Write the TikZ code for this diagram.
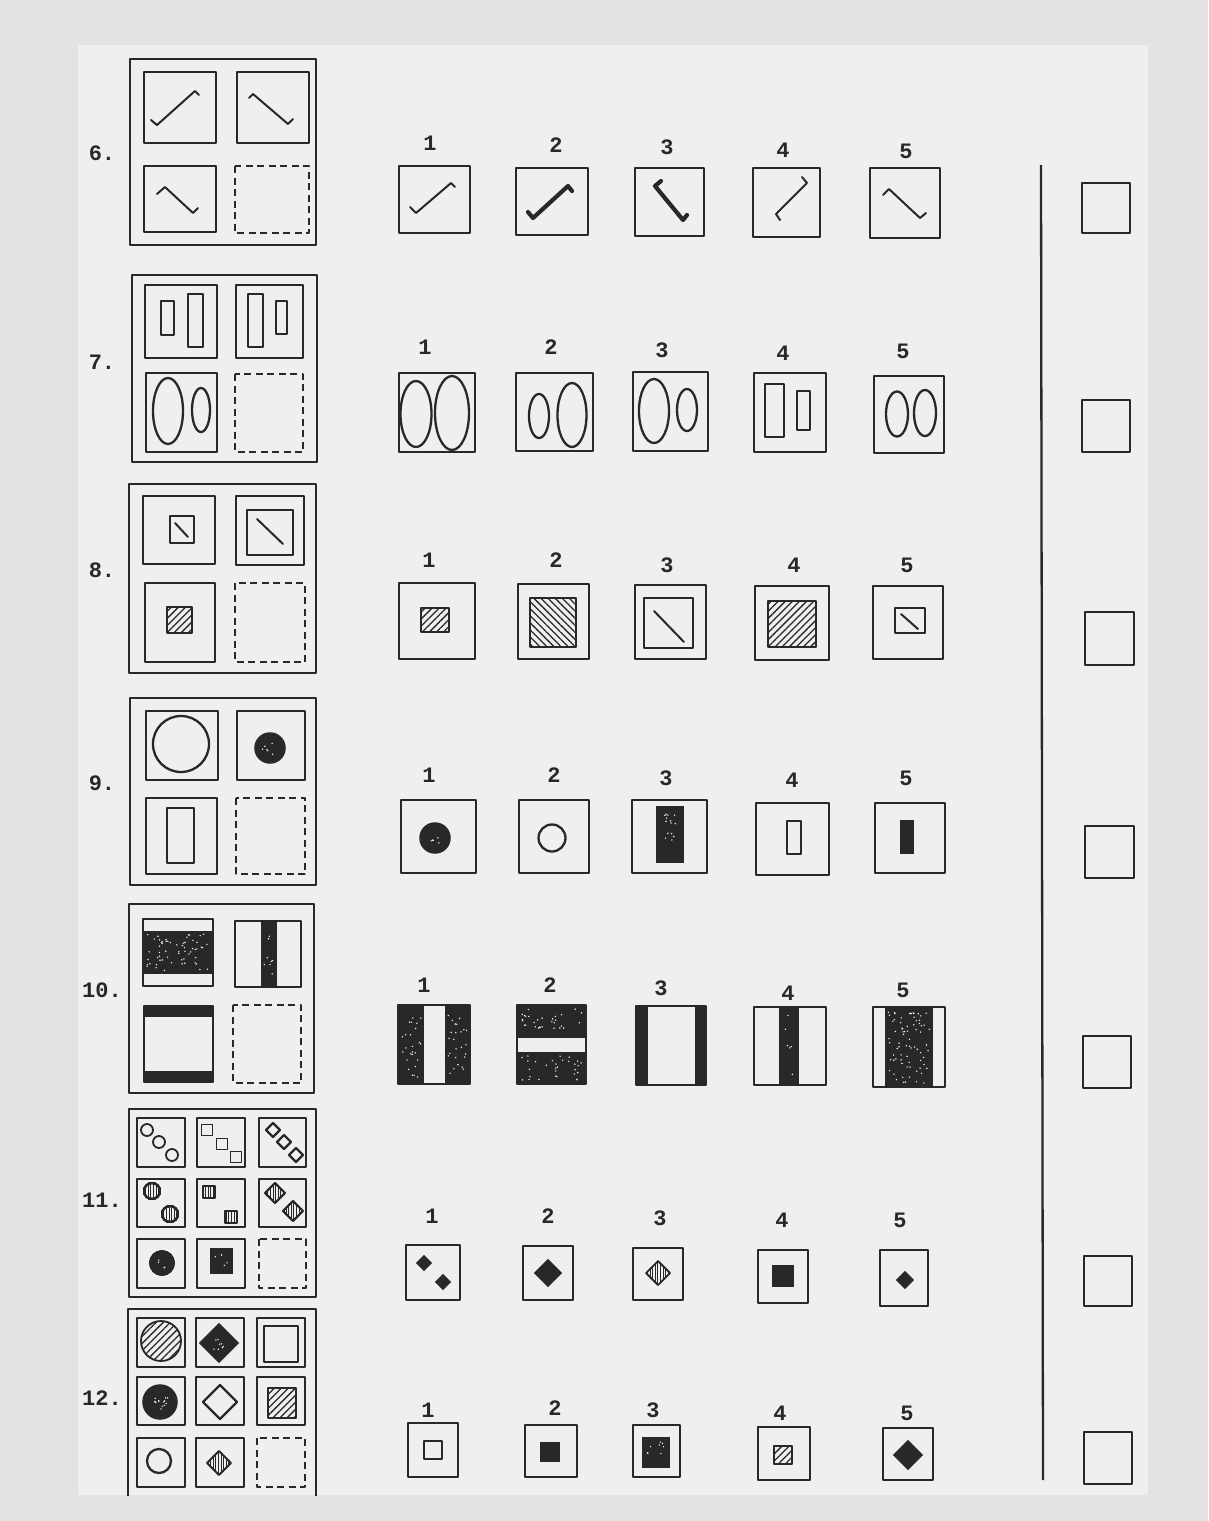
\documentclass[tikz,border=0pt]{standalone}
\usepackage{fontspec}
\newfontfamily\monofam{Liberation Mono}
\usetikzlibrary{patterns.meta}
\definecolor{inkcol}{RGB}{40,40,40}
\definecolor{papercol}{RGB}{239,239,237}
\definecolor{margincol}{RGB}{228,226,226}
\newcommand{\numfont}{\fontsize{22}{22}\selectfont\monofam\bfseries}
\tikzset{
  ink/.style     = {draw=inkcol, line width=2.3pt, line join=round},
  matbox/.style  = {ink, line width=2.5pt},
  cellbox/.style = {ink},
  gapbox/.style  = {ink, dash pattern=on 7pt off 4.5pt},
  optbox/.style  = {ink},
  ansbox/.style  = {ink, line width=2pt},
  wire/.style    = {ink, line width=2pt, line cap=round},
  fatwire/.style = {ink, line width=4.2pt, line cap=round},
  blk/.style     = {fill=inkcol, draw=inkcol, line width=1.5pt},
  hatchR/.style  = {ink, line width=1.8pt, pattern color=inkcol,
                    pattern={Lines[angle=45,distance=5pt,line width=1.3pt]}},
  hatchL/.style  = {ink, line width=1.8pt, pattern color=inkcol,
                    pattern={Lines[angle=-45,distance=5pt,line width=1.3pt]}},
  vstripe/.style = {ink, line width=1.8pt, pattern color=inkcol,
                    pattern={Lines[angle=90,distance=2.6pt,line width=0.9pt]}},
  num/.style     = {font=\numfont, text=inkcol, inner sep=0pt},
}
% centred square, centred diamond, white speckles in a black area
\newcommand{\sqc}[4][]{\draw[#1,shift={(#2,#3)}] (-#4,-#4) rectangle (#4,#4);}
\newcommand{\diam}[4][]{\draw[#1,shift={(#2,#3)}] (0,-#4) -- (#4,0) -- (0,#4) -- (-#4,0) -- cycle;}
\newcommand{\speck}[5]{\foreach \i in {1,...,#5}{%
  \pgfmathsetmacro\sx{#1+rnd*(#3-#1)}\pgfmathsetmacro\sy{#2+rnd*(#4-#2)}%
  \fill[papercol] (\sx,\sy) circle[radius=0.8pt];}}

\begin{document}
\begin{tikzpicture}[x=1pt,y=-1pt]
  \pgfmathsetseed{11}
  \useasboundingbox (0,0) rectangle (1208,1521);
  \fill[margincol] (0,0) rectangle (1208,1521);
  \fill[papercol] (78,45) rectangle (1148,1495);

  % item labels
  \foreach \y/\t [count=\k] in {153/6., 362/7., 570/8., 783/9., 990/10., 1200/11., 1398/12.}
    \node[num] (item\k) at (102,\y) {\t};

  % option numbers
  \foreach \r/\ya/\yb/\yc/\yd/\ye/\xa/\xb/\xc/\xd/\xe in {
      6/143/145/147/150/151/430/556/667/783/906,
      7/347/347/350/353/351/425/551/662/783/903,
      8/560/560/565/565/565/429/556/667/794/907,
      9/775/775/778/780/778/429/554/666/792/906,
      10/985/985/988/993/990/424/550/661/788/903,
      11/1216/1216/1218/1220/1220/432/548/660/782/900,
      12/1410/1408/1410/1413/1413/428/555/653/780/907}{
    \node[num] (o\r-1) at (\xa,\ya) {1};
    \node[num] (o\r-2) at (\xb,\yb) {2};
    \node[num] (o\r-3) at (\xc,\yc) {3};
    \node[num] (o\r-4) at (\xd,\yd) {4};
    \node[num] (o\r-5) at (\xe,\ye) {5};
  }

  % answer boxes and the rule
  \foreach \xa/\ya/\xb/\yb in {1082/183/1130/233, 1082/400/1130/452, 1085/612/1134/665,
      1085/826/1134/878, 1083/1036/1131/1088, 1084/1256/1132/1306, 1084/1432/1132/1484}
    \draw[ansbox] (\xa,\ya) rectangle (\xb,\yb);
  \coordinate (ruletop) at (1041,165);
  \coordinate (rulebot) at (1043,1480);
  \draw[ink] (ruletop) -- (rulebot);

  % ---- item 6
  \draw[matbox] (130,59) rectangle (316,245);
  \draw[cellbox] (144,72) rectangle (216,143);
  \draw[cellbox] (237,72) rectangle (309,143);
  \draw[cellbox] (144,166) rectangle (216,232);
  \draw[gapbox] (235,166) rectangle (309,233);
  \draw[wire] (151,120) -- (157,125) -- (195,91) -- (199,95);
  \draw[wire] (249,98) -- (253,94) -- (288,124) -- (293,119);
  \draw[wire] (157,194) -- (165,187) -- (193,213) -- (198,208);
  \draw[optbox] (399,166) rectangle (470,233);
  \draw[optbox] (516,168) rectangle (588,235);
  \draw[optbox] (635,168) rectangle (704,236);
  \draw[optbox] (753,168) rectangle (820,237);
  \draw[optbox] (870,168) rectangle (940,238);
  \draw[wire] (410,207) -- (416,213) -- (451,183) -- (455,187);
  \draw[fatwire] (528,212) -- (533,218) -- (568,186) -- (572,191);
  \draw[fatwire] (661,181) -- (655,186) -- (683,220) -- (687,215);
  \draw[wire] (802,177) -- (807,183) -- (776,214) -- (780,220);
  \draw[wire] (883,195) -- (889,189) -- (920,218) -- (926,213);

  % ---- item 7
  \draw[matbox] (132,275) rectangle (317,462);
  \draw[cellbox] (145,285) rectangle (217,358);
  \draw[cellbox] (236,285) rectangle (303,358);
  \draw[cellbox] (146,373) rectangle (217,452);
  \draw[gapbox] (235,374) rectangle (303,452);
  \draw[ink] (161,301) rectangle (174,335);
  \draw[ink] (188,294) rectangle (203,347);
  \draw[ink] (248,294) rectangle (263,347);
  \draw[ink] (276,301) rectangle (287,334);
  \draw[ink] (168,411) ellipse[x radius=15pt, y radius=33pt];
  \draw[ink] (201,410) ellipse[x radius=9pt, y radius=22pt];
  \draw[optbox] (399,373) rectangle (475,452);
  \draw[optbox] (516,373) rectangle (593,451);
  \draw[optbox] (633,372) rectangle (708,451);
  \draw[optbox] (754,373) rectangle (826,452);
  \draw[optbox] (874,376) rectangle (944,453);
  \draw[ink] (416,414) ellipse[x radius=15.5pt, y radius=33pt];
  \draw[ink] (452,413) ellipse[x radius=17pt, y radius=37pt];
  \draw[ink] (539,416) ellipse[x radius=10pt, y radius=22pt];
  \draw[ink] (572,415) ellipse[x radius=14.5pt, y radius=32pt];
  \draw[ink] (654,411) ellipse[x radius=15pt, y radius=32pt];
  \draw[ink] (687,410) ellipse[x radius=10pt, y radius=21pt];
  \draw[ink] (765,384) rectangle (784,437);
  \draw[ink] (797,391) rectangle (810,430);
  \draw[ink] (897,414) ellipse[x radius=11pt, y radius=22.5pt];
  \draw[ink] (925,413) ellipse[x radius=11pt, y radius=23pt];

  % ---- item 8
  \draw[matbox] (129,484) rectangle (316,673);
  \draw[cellbox] (143,496) rectangle (215,564);
  \draw[cellbox] (236,496) rectangle (304,565);
  \draw[cellbox] (145,583) rectangle (215,662);
  \draw[gapbox] (235,583) rectangle (305,662);
  \draw[ink] (170,516) rectangle (194,543);
  \draw[wire] (175,523) -- (188,537);
  \draw[ink] (247,510) rectangle (293,555);
  \draw[wire] (257,519) -- (283,544);
  \draw[hatchR] (167,607) rectangle (192,633);
  \draw[optbox] (399,583) rectangle (475,659);
  \draw[optbox] (518,584) rectangle (589,659);
  \draw[optbox] (635,585) rectangle (706,659);
  \draw[optbox] (755,586) rectangle (829,660);
  \draw[optbox] (873,586) rectangle (943,659);
  \draw[hatchR] (421,608) rectangle (449,632);
  \draw[hatchL] (530,598) rectangle (576,647);
  \draw[ink] (644,598) rectangle (693,648);
  \draw[wire] (654,611) -- (684,642);
  \draw[hatchR] (768,601) rectangle (816,647);
  \draw[ink] (895,608) rectangle (925,633);
  \draw[wire] (901,614) -- (918,629);

  % ---- item 9
  \draw[matbox] (130,698) rectangle (316,885);
  \draw[cellbox] (146,711) rectangle (218,780);
  \draw[cellbox] (237,711) rectangle (305,780);
  \draw[cellbox] (146,798) rectangle (217,874);
  \draw[gapbox] (236,798) rectangle (305,874);
  \draw[ink] (181,744) circle[radius=28pt];
  \draw[blk] (270,748) circle[radius=15pt];
  \speck{262}{741}{278}{755}{6}
  \draw[ink] (167,808) rectangle (194,863);
  \draw[optbox] (401,800) rectangle (476,873);
  \draw[optbox] (519,800) rectangle (589,873);
  \draw[optbox] (632,800) rectangle (707,873);
  \draw[optbox] (756,803) rectangle (829,875);
  \draw[optbox] (875,803) rectangle (945,873);
  \draw[blk] (435,838) circle[radius=15pt];
  \speck{429}{832}{441}{844}{5}
  \draw[ink] (552,838) circle[radius=13.5pt];
  \draw[blk] (657,807) rectangle (683,862);
  \speck{664}{812}{676}{857}{14}
  \draw[ink] (787,821) rectangle (801,854);
  \draw[blk] (901,821) rectangle (913,853);

  % ---- item 10
  \draw[matbox] (129,904) rectangle (314,1093);
  \fill[inkcol] (143,931) rectangle (213,974);
  \speck{147}{934}{209}{971}{60}
  \draw[cellbox] (143,919) rectangle (213,986);
  \fill[inkcol] (261,921) rectangle (277,987);
  \speck{264}{930}{274}{975}{8}
  \draw[cellbox] (235,921) rectangle (301,987);
  \fill[inkcol] (144,1006) rectangle (213,1017);
  \fill[inkcol] (144,1071) rectangle (213,1082);
  \draw[cellbox] (144,1006) rectangle (213,1082);
  \draw[gapbox] (233,1005) rectangle (301,1083);
  \fill[inkcol] (398,1005) rectangle (424,1084);
  \fill[inkcol] (445,1005) rectangle (470,1084);
  \speck{401}{1015}{421}{1080}{25}
  \speck{448}{1015}{467}{1080}{25}
  \draw[optbox] (398,1005) rectangle (470,1084);
  \fill[inkcol] (517,1005) rectangle (586,1038);
  \fill[inkcol] (517,1052) rectangle (586,1084);
  \speck{522}{1009}{582}{1034}{30}
  \speck{522}{1056}{582}{1080}{30}
  \draw[optbox] (517,1005) rectangle (586,1084);
  \fill[inkcol] (636,1006) rectangle (648,1085);
  \fill[inkcol] (695,1006) rectangle (706,1085);
  \draw[optbox] (636,1006) rectangle (706,1085);
  \fill[inkcol] (779,1007) rectangle (799,1085);
  \speck{784}{1015}{794}{1075}{6}
  \draw[optbox] (754,1007) rectangle (826,1085);
  \fill[inkcol] (885,1007) rectangle (933,1087);
  \speck{888}{1012}{930}{1083}{75}
  \draw[optbox] (873,1007) rectangle (945,1087);

  % ---- item 11
  \draw[matbox] (129,1109) rectangle (316,1297);
  \foreach \ya/\yb in {1118/1167, 1179/1227}
    \foreach \xa/\xb in {137/185, 197/245, 259/306}
      \draw[cellbox] (\xa,\ya) rectangle (\xb,\yb);
  \draw[cellbox] (137,1239) rectangle (185,1288);
  \draw[cellbox] (197,1239) rectangle (245,1288);
  \draw[gapbox] (259,1239) rectangle (306,1288);
  \foreach \x/\y in {147/1130, 159/1142, 172/1155} \draw[ink, line width=1.8pt] (\x,\y) circle[radius=6pt];
  \foreach \x/\y in {207/1130, 222/1144, 236/1157} \sqc[ink, line width=1.8pt]{\x}{\y}{5.5}
  \foreach \x/\y in {273/1130, 284/1142, 296/1155} \diam[ink, line width=1.8pt]{\x}{\y}{7}
  \foreach \x/\y in {152/1191, 170/1214} \draw[vstripe] (\x,\y) circle[radius=8pt];
  \foreach \x/\y in {209/1192, 231/1217} \sqc[vstripe]{\x}{\y}{6}
  \foreach \x/\y in {275/1193, 293/1211} \diam[vstripe]{\x}{\y}{10}
  \draw[blk] (162,1263) circle[radius=12pt];
  \speck{157}{1258}{167}{1268}{4}
  \draw[blk] (211,1249) rectangle (232,1273);
  \speck{215}{1254}{228}{1268}{4}
  \draw[optbox] (406,1245) rectangle (460,1300);
  \draw[optbox] (523,1246) rectangle (573,1300);
  \draw[optbox] (633,1248) rectangle (683,1300);
  \draw[optbox] (758,1250) rectangle (808,1303);
  \draw[optbox] (880,1250) rectangle (928,1306);
  \diam[blk]{424}{1263}{7}
  \diam[blk]{443}{1282}{7}
  \diam[blk]{548}{1273}{13}
  \diam[vstripe]{658}{1273}{12}
  \sqc[blk]{783}{1276}{10}
  \diam[blk]{905}{1280}{8}

  % ---- item 12
  \draw[matbox] (128,1496) -- (128,1309) -- (316,1309) -- (316,1496);
  \foreach \ya/\yb in {1318/1367, 1377/1425}
    \foreach \xa/\xb in {137/185, 196/244, 257/305}
      \draw[cellbox] (\xa,\ya) rectangle (\xb,\yb);
  \draw[cellbox] (137,1438) rectangle (185,1487);
  \draw[cellbox] (196,1438) rectangle (244,1487);
  \draw[gapbox] (257,1438) rectangle (305,1487);
  \draw[hatchR] (161,1341) circle[radius=20pt];
  \diam[blk]{219}{1343}{19}
  \speck{212}{1336}{226}{1350}{8}
  \draw[ink] (264,1326) rectangle (298,1362);
  \draw[blk] (160,1402) circle[radius=17pt];
  \speck{152}{1394}{168}{1410}{14}
  \diam[ink]{220}{1402}{17}
  \draw[hatchR] (268,1388) rectangle (296,1418);
  \draw[ink] (159,1461) circle[radius=12pt];
  \diam[vstripe]{219}{1463}{12}
  \draw[optbox] (408,1423) rectangle (458,1477);
  \draw[optbox] (525,1425) rectangle (577,1477);
  \draw[optbox] (633,1425) rectangle (680,1477);
  \draw[optbox] (758,1427) rectangle (810,1480);
  \draw[optbox] (883,1428) rectangle (933,1480);
  \sqc[ink]{433}{1450}{9}
  \sqc[blk]{550}{1452}{9}
  \draw[blk] (643,1438) rectangle (669,1467);
  \speck{647}{1442}{665}{1463}{8}
  \sqc[hatchR]{783}{1455}{9}
  \diam[blk]{908}{1455}{14}
\end{tikzpicture}
\end{document}
